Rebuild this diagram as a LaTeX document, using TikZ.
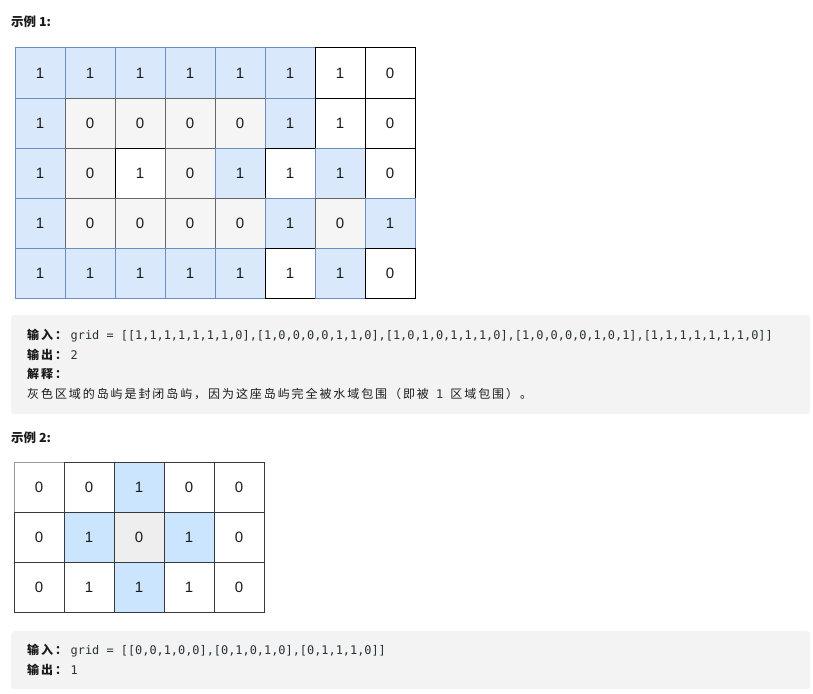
\documentclass[tikz,border=0pt]{standalone}
\usepackage{fontspec}
\setmainfont{Liberation Sans}
\newfontfamily\cjk[LetterSpace=16]{Noto Sans CJK SC}
\newfontfamily\cjkt{Noto Sans CJK SC}
\newfontfamily\mono{DejaVu Sans Mono}
\definecolor{bfill}{HTML}{DAE8FC}
\definecolor{bline}{HTML}{6C8EBF}
\definecolor{gfill}{HTML}{F5F5F5}
\definecolor{gline}{HTML}{666666}
\definecolor{bfillb}{HTML}{CCE5FF}
\definecolor{gfillb}{HTML}{EEEEEE}
\definecolor{dline}{HTML}{36393D}
\definecolor{boxbg}{HTML}{F3F3F3}
\definecolor{txt}{HTML}{1A1A1A}
\definecolor{codetxt}{HTML}{263238}
\tikzset{
  cell/.style={minimum size=50pt, inner sep=0pt, outer sep=0pt, line width=1pt,
    font=\fontsize{15}{16}\selectfont, text=txt},
  cellb/.style={cell, fill=bfill, draw=bline},
  cellg/.style={cell, fill=gfill, draw=gline},
  cellw/.style={cell, fill=white, draw=black},
  cellB/.style={cell, fill=bfillb, draw=dline},
  cellG/.style={cell, fill=gfillb, draw=dline},
  cellW/.style={cell, fill=white, draw=dline},
  cellL/.style={cell, fill=white, draw=black!40},
  codebox/.style={fill=boxbg, draw=none, rounded corners=3pt, inner sep=0pt, anchor=north west},
  title/.style={anchor=base west, inner sep=0pt, text=txt, font=\cjkt\bfseries\fontsize{12.5}{14}\selectfont},
  lbl/.style={anchor=base west, inner sep=0pt, text=txt, font=\cjk\bfseries\fontsize{12}{14}\selectfont},
  code/.style={anchor=base west, inner sep=0pt, text=codetxt, font=\mono\fontsize{11.9}{14}\selectfont},
  plain/.style={anchor=base west, inner sep=0pt, text=txt, font=\cjk\fontsize{12}{14}\selectfont},
}
\begin{document}
\begin{tikzpicture}[x=1pt,y=-1pt]
\useasboundingbox (0,0) rectangle (813,693);
\fill[white] (0,0) rectangle (813,693);

% Example 1
\node[title] (t1) at (11,27) {示例 1:};
\foreach \c/\r/\t/\v in {
 1/1/b/1,2/1/b/1,3/1/b/1,4/1/b/1,5/1/b/1,6/1/b/1,7/1/w/1,8/1/w/0,
 1/2/b/1,2/2/g/0,3/2/g/0,4/2/g/0,5/2/g/0,6/2/b/1,7/2/w/1,8/2/w/0,
 1/3/b/1,2/3/g/0,3/3/w/1,4/3/g/0,5/3/b/1,6/3/w/1,7/3/b/1,8/3/w/0,
 1/4/b/1,2/4/g/0,3/4/g/0,4/4/g/0,5/4/g/0,6/4/b/1,7/4/g/0,8/4/b/1,
 1/5/b/1,2/5/b/1,3/5/b/1,4/5/b/1,5/5/b/1,6/5/w/1,7/5/b/1,8/5/w/0}
  \node[cell\t] (ga-\r-\c) at ({-10+50*\c},{23+50*\r}) {\v};

\node[codebox, minimum width=799pt, minimum height=99pt] (box1) at (11,315) {};
\node[lbl] (in1) at (27,339) {输入：};
\node[code] (in1v) at (70.5,339) {grid = [[1,1,1,1,1,1,1,0],[1,0,0,0,0,1,1,0],[1,0,1,0,1,1,1,0],[1,0,0,0,0,1,0,1],[1,1,1,1,1,1,1,0]]};
\node[lbl] (out1) at (27,359) {输出：};
\node[code] (out1v) at (70.5,359) {2};
\node[lbl] (exp1) at (27,378) {解释：};
\node[plain] (exp1v) at (27,398) {灰色区域的岛屿是封闭岛屿，因为这座岛屿完全被水域包围（即被{\mono\fontsize{11.9}{14}\selectfont\color{codetxt}\ 1\ }区域包围）。};

% Example 2
\node[title] (t2) at (11,442) {示例 2:};
\foreach \c/\r/\t/\v in {
 1/1/L/0,2/1/W/0,3/1/B/1,4/1/W/0,5/1/W/0,
 1/2/W/0,2/2/B/1,3/2/G/0,4/2/B/1,5/2/W/0,
 1/3/W/0,2/3/W/1,3/3/B/1,4/3/W/1,5/3/W/0}
  \node[cell\t] (gb-\r-\c) at ({-11+50*\c},{437+50*\r}) {\v};

\node[codebox, minimum width=799pt, minimum height=58pt] (box2) at (11,631) {};
\node[lbl] (in2) at (27,654) {输入：};
\node[code] (in2v) at (70.5,654) {grid = [[0,0,1,0,0],[0,1,0,1,0],[0,1,1,1,0]]};
\node[lbl] (out2) at (27,674) {输出：};
\node[code] (out2v) at (70.5,674) {1};
\end{tikzpicture}
\end{document}
